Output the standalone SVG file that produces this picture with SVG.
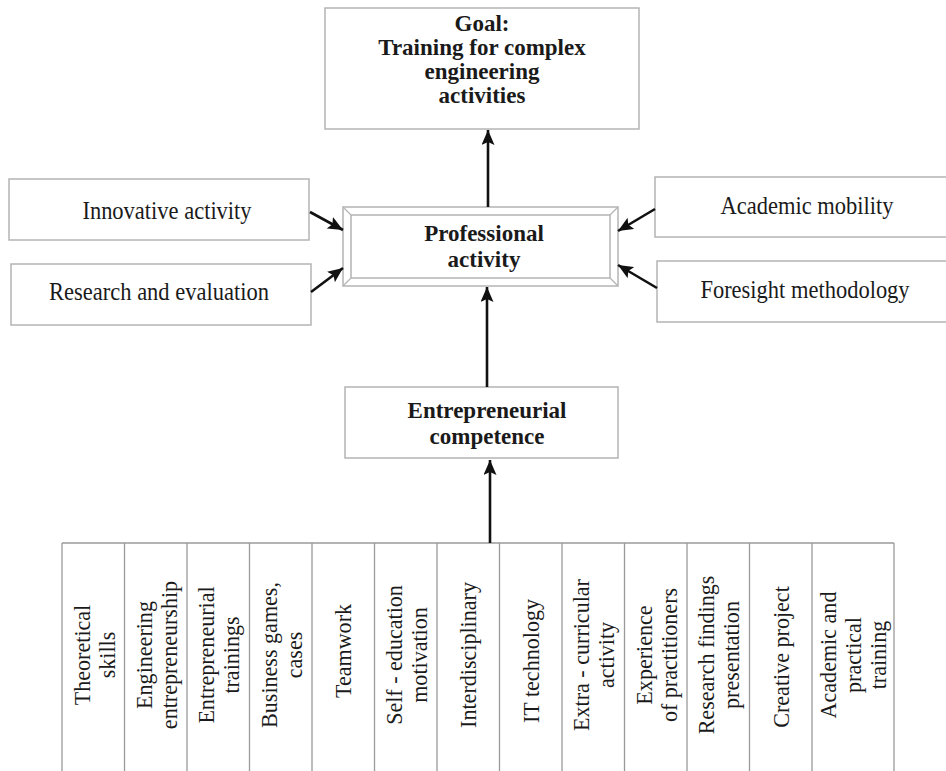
<svg xmlns="http://www.w3.org/2000/svg" width="946" height="771" viewBox="0 0 946 771">
<defs>
<marker id="ah" markerUnits="userSpaceOnUse" markerWidth="15" markerHeight="13" refX="15" refY="6.5" orient="auto">
<path d="M0,0 L15,6.5 L0,13 L3,6.5 z" fill="#111"/>
</marker>
<style>
.box{fill:#fff;stroke:#b4b4b4;stroke-width:1.5}
.grid{stroke:#9a9a9a;stroke-width:1.3;fill:none}
.bev{stroke:#b4b4b4;stroke-width:1.2;fill:none}
.t{font-family:"Liberation Serif","Times New Roman",serif;font-size:25px;fill:#1a1a1a;text-anchor:middle}
.b{font-family:"Liberation Serif","Times New Roman",serif;font-size:23px;font-weight:bold;fill:#1a1a1a;text-anchor:middle}
.v{font-family:"Liberation Serif","Times New Roman",serif;font-size:24px;fill:#1a1a1a;text-anchor:middle}
.arr{stroke:#111;stroke-width:2.6;fill:none;marker-end:url(#ah)}
</style>
</defs>
<rect width="946" height="771" fill="#fff"/>

<g id="goal">
<rect class="box" x="325" y="8" width="314" height="121"/>
<text class="b" x="482" y="31">Goal:</text>
<text class="b" x="482" y="55">Training for complex</text>
<text class="b" x="482" y="79">engineering</text>
<text class="b" x="482" y="103">activities</text>
</g>

<g id="professional">
<rect class="box" x="343" y="207" width="275" height="79"/>
<rect class="box" x="351" y="215" width="259" height="63"/>
<path class="bev" d="M343,207 L351,215 M618,207 L610,215 M343,286 L351,278 M618,286 L610,278"/>
<text class="b" x="484" y="241">Professional</text>
<text class="b" x="484" y="267">activity</text>
</g>

<g id="innovative">
<rect class="box" x="9" y="179" width="300" height="61"/>
<text class="t" transform="translate(167,219) scale(0.9,1)">Innovative activity</text>
</g>
<g id="research">
<rect class="box" x="11" y="264" width="300" height="61"/>
<text class="t" transform="translate(159,300) scale(0.9,1)">Research and evaluation</text>
</g>
<g id="academic">
<rect class="box" x="655" y="177" width="300" height="60"/>
<text class="t" transform="translate(807,214) scale(0.9,1)">Academic mobility</text>
</g>
<g id="foresight">
<rect class="box" x="657" y="261" width="300" height="61"/>
<text class="t" transform="translate(805,298) scale(0.9,1)">Foresight methodology</text>
</g>

<g id="entrepreneurial">
<rect class="box" x="345" y="387" width="273" height="71"/>
<text class="b" x="487" y="418">Entrepreneurial</text>
<text class="b" x="487" y="444">competence</text>
</g>

<g id="table">
<path class="grid" d="M62,543 H894 M62,543 V771 M124.5,543 V771 M187,543 V771 M249.5,543 V771 M312,543 V771 M374.5,543 V771 M437,543 V771 M499.5,543 V771 M562,543 V771 M624.5,543 V771 M687,543 V771 M749.5,543 V771 M812,543 V771 M894,543 V771"/>
</g>
<g id="c1" transform="translate(94,655) rotate(-90) scale(0.92,1)"><text class="v" y="-4">Theoretical</text><text class="v" y="21">skills</text></g>
<g id="c2" transform="translate(156,655) rotate(-90) scale(0.92,1)"><text class="v" y="-4">Engineering</text><text class="v" y="21">entrepreneurship</text></g>
<g id="c3" transform="translate(218,655) rotate(-90) scale(0.92,1)"><text class="v" y="-4">Entrepreneurial</text><text class="v" y="21">trainings</text></g>
<g id="c4" transform="translate(281,655) rotate(-90) scale(0.92,1)"><text class="v" y="-4">Business games,</text><text class="v" y="21">cases</text></g>
<g id="c5" transform="translate(343,651) rotate(-90) scale(0.92,1)"><text class="v" y="8">Teamwork</text></g>
<g id="c6" transform="translate(406,655) rotate(-90) scale(0.92,1)"><text class="v" y="-4">Self - education</text><text class="v" y="21">motivation</text></g>
<g id="c7" transform="translate(468,655) rotate(-90) scale(0.92,1)"><text class="v" y="8">Interdisciplinary</text></g>
<g id="c8" transform="translate(531,661) rotate(-90) scale(0.92,1)"><text class="v" y="8">IT technology</text></g>
<g id="c9" transform="translate(593,655) rotate(-90) scale(0.92,1)"><text class="v" y="-4">Extra - curricular</text><text class="v" y="21">activity</text></g>
<g id="c10" transform="translate(656,655) rotate(-90) scale(0.92,1)"><text class="v" y="-4">Experience</text><text class="v" y="21">of practitioners</text></g>
<g id="c11" transform="translate(718,655) rotate(-90) scale(0.92,1)"><text class="v" y="-4">Research findings</text><text class="v" y="21">presentation</text></g>
<g id="c12" transform="translate(781,657) rotate(-90) scale(0.92,1)"><text class="v" y="8">Creative project</text></g>
<g id="c13" transform="translate(853,655) rotate(-90) scale(0.92,1)"><text class="v" y="-17">Academic and</text><text class="v" y="8">practical</text><text class="v" y="33">training</text></g>

<g id="connectors">
<line class="arr" x1="488" y1="207" x2="488" y2="130"/>
<line class="arr" x1="487" y1="387" x2="487" y2="287"/>
<line class="arr" x1="490" y1="543" x2="490" y2="460"/>
<line class="arr" x1="310" y1="212" x2="343" y2="230"/>
<line class="arr" x1="311" y1="292" x2="343" y2="268"/>
<line class="arr" x1="655" y1="209" x2="618" y2="231"/>
<line class="arr" x1="657" y1="288" x2="618" y2="265"/>
</g>
</svg>
